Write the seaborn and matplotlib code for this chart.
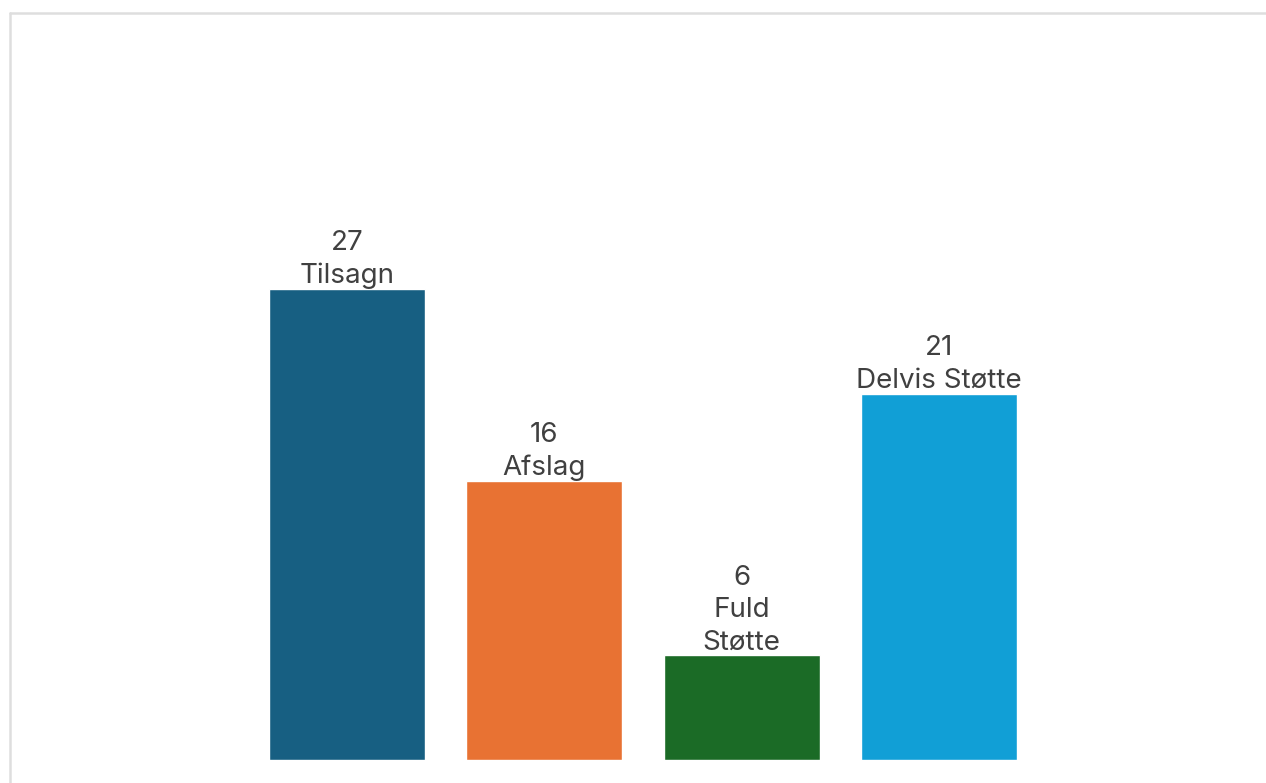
import matplotlib
matplotlib.use("Agg")
import matplotlib.pyplot as plt
from matplotlib.lines import Line2D
import pandas as pd
import seaborn as sns

# data
categories = ['Tilsagn', 'Afslag', 'Fuld Støtte', 'Delvis Støtte']
bar_labels = ['Tilsagn', 'Afslag', 'Fuld\nStøtte', 'Delvis Støtte']
counts = [27, 16, 6, 21]
colors = ['#175f82', '#e87233', '#1b6b26', '#119fd6']

sns.set_style('white')
plt.rcParams['font.family'] = ['Inter', 'DejaVu Sans']

df = pd.DataFrame({'Kategori': categories, 'Antal': counts})

W, H = 1266, 783
fig = plt.figure(figsize=(W / 100, H / 100), dpi=100)
fig.patch.set_facecolor('white')

# grey frame at top and left (the chart box runs off the right/bottom)
fig.add_artist(Line2D([9.5 / W, 9.5 / W], [0, 1 - 12.5 / H], color='#dedede', lw=1.8))
fig.add_artist(Line2D([9.5 / W, 1], [1 - 12.5 / H, 1 - 12.5 / H], color='#dedede', lw=1.8))

ax = fig.add_axes([248.3 / W, 23 / H, 789.3 / W, 697.6 / H])
sns.barplot(data=df, x='Kategori', y='Antal', hue='Kategori', palette=colors,
            order=categories, hue_order=categories, width=0.79, legend=False,
            saturation=1, ax=ax)

ax.set_xlim(-0.5, 3.5)
ax.set_ylim(0, 40)
ax.axis('off')

for i, (v, lab) in enumerate(zip(counts, bar_labels)):
    ax.annotate(f'{v}\n{lab}', (i, v), xytext=(0, 0), textcoords='offset points',
                ha='center', va='bottom', multialignment='center',
                fontsize=20, color='#404040', linespacing=1.32)

fig.savefig('out.png', dpi=100, facecolor='white')
